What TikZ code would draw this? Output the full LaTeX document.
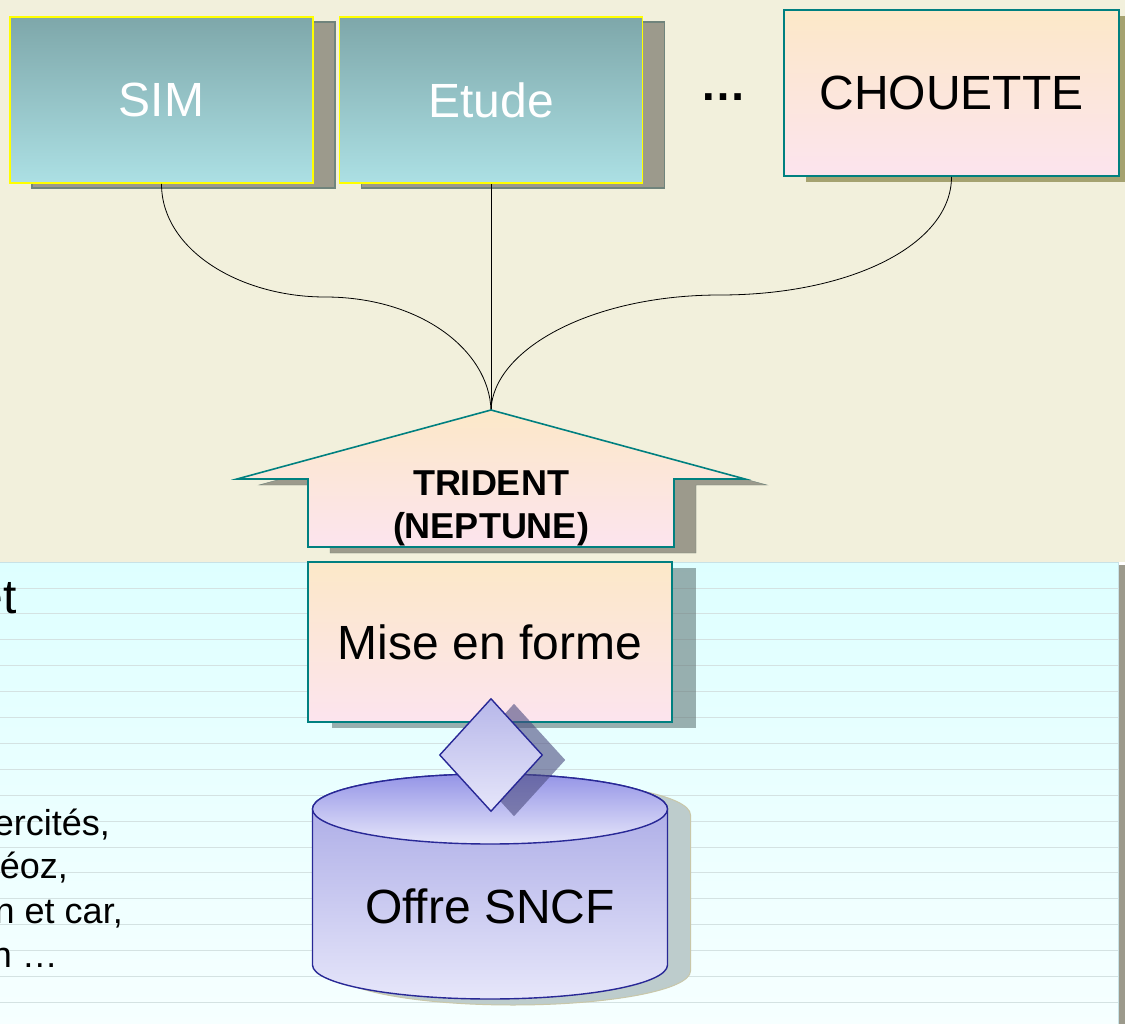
\documentclass[tikz,border=0pt]{standalone}
\usepackage{fontspec}
\setmainfont{Liberation Sans}
\usetikzlibrary{shapes.geometric,shadows}
\definecolor{topbg}{RGB}{242,240,220}
\definecolor{paneltop}{RGB}{222,255,255}
\definecolor{panelbot}{RGB}{246,255,255}
\definecolor{panelline}{RGB}{212,226,226}
\definecolor{paneledge}{RGB}{200,226,230}
\definecolor{shadowgray}{RGB}{156,154,140}
\definecolor{shadowedge}{RGB}{112,132,124}
\definecolor{oliveshadow}{RGB}{165,162,112}
\definecolor{simtop}{RGB}{126,167,170}
\definecolor{simbot}{RGB}{172,224,228}
\definecolor{boxyellow}{RGB}{255,255,0}
\definecolor{peach}{RGB}{252,232,200}
\definecolor{pinkish}{RGB}{252,228,238}
\definecolor{tealline}{RGB}{0,128,128}
\definecolor{lavtop}{RGB}{165,165,228}
\definecolor{lavbot}{RGB}{230,230,250}
\definecolor{navy}{RGB}{40,40,150}
\newcommand\boxfont{\fontsize{48}{56}\selectfont}
\newcommand\notefont{\fontsize{36}{44}\selectfont}
\begin{document}
\begin{tikzpicture}[x=1pt,y=-1pt,
  simbox/.style={draw=boxyellow,line width=1.8pt,top color=simtop,bottom color=simbot,
    text=white,minimum width=303pt,minimum height=166pt,inner sep=0pt,font=\boxfont,
    drop shadow={shadow xshift=22pt,shadow yshift=-5pt,fill=shadowgray,draw=shadowedge,opacity=1}},
  pinkbox/.style={draw=tealline,line width=1.6pt,top color=peach,bottom color=pinkish,
    inner sep=0pt,font=\boxfont},
  note/.style={anchor=base east,inner sep=0pt,font=\notefont}]
  \useasboundingbox (0,0) rectangle (1125,1024);
  % background
  \fill[topbg] (0,0) rectangle (1125,562);
  \shade[top color=paneltop,bottom color=panelbot] (-2,562) rectangle (1118,1026);
  \foreach \k in {0,...,16}
    \draw[panelline,line width=1pt] (0,{588+25.9*\k}) -- (1118,{588+25.9*\k});
  \fill[shadowgray] (1119,565) rectangle (1125,1026);
  \draw[paneledge,line width=1pt] (-2,562) -- (1118,562) -- (1118,1026);
  % left texts
  \node[note,font=\boxfont] (t0) at (17,613) {et};
  \node[note] (t1) at (110,835) {ercités,};
  \node[note] (t2) at (68,878) {éoz,};
  \node[note] (t3) at (123,923) {n et car,};
  \node[note] (t4) at (58,967) {n …};
  % top boxes
  \node[simbox] (sim) at (161.5,100) {SIM};
  \node[simbox] (etude) at (491,100) {Etude};
  \node (dots) at (723,97) {\fontsize{46}{50}\selectfont\bfseries …};
  \node[pinkbox,minimum width=335pt,minimum height=166pt,
    drop shadow={shadow xshift=22pt,shadow yshift=-6pt,fill=oliveshadow,opacity=1}]
    (chouette) at (951.5,93) {CHOUETTE};
  % links
  \coordinate (apex) at (491,410);
  \draw[line width=0.8pt] (sim.south) .. controls (161.5,250) and (240,297) .. (325,297)
    .. controls (420,297) and (489,350) .. (apex);
  \draw[line width=0.8pt] (etude.south) -- (apex);
  \draw[line width=0.8pt] (chouette.south) .. controls (951.5,245) and (850,295) .. (720,295)
    .. controls (590,295) and (493,350) .. (apex);
  % trident arrow
  \path[draw=tealline,line width=1.6pt,top color=peach,bottom color=pinkish,
    drop shadow={shadow xshift=22pt,shadow yshift=-6pt,fill=shadowgray,draw=shadowedge,opacity=1}]
    (apex) -- (745,479) -- (674,479) -- (674,547) -- (308,547) -- (308,479) -- (237,479) -- cycle;
  \node[align=center,font=\fontsize{36}{43}\selectfont\bfseries,inner sep=0pt]
    (trident) at (491,508) {TRIDENT\\(NEPTUNE)};
  % mise en forme
  \node[pinkbox,minimum width=364pt,minimum height=160pt,
    drop shadow={shadow xshift=24pt,shadow yshift=-6pt,fill=black!45!teal!30!gray,opacity=0.55}]
    (mef) at (490,642) {Mise en forme};
  % cylinder
  \path[fill=gray!70!teal!40,draw=oliveshadow!60!white,line width=1pt]
    (335.5,815) .. controls (335.5,795.7) and (415,780) .. (513,780)
    .. controls (611,780) and (690.5,795.7) .. (690.5,815) -- (690.5,971)
    .. controls (690.5,989.8) and (611,1005) .. (513,1005)
    .. controls (415,1005) and (335.5,989.8) .. (335.5,971) -- cycle;
  \path[draw=navy,line width=1.4pt,top color=lavtop,bottom color=lavbot]
    (312.5,809) .. controls (312.5,789.7) and (392,774) .. (490,774)
    .. controls (588,774) and (667.5,789.7) .. (667.5,809) -- (667.5,965)
    .. controls (667.5,983.8) and (588,999) .. (490,999)
    .. controls (392,999) and (312.5,983.8) .. (312.5,965) -- cycle;
  \path[draw=navy,line width=1.4pt,top color=lavtop!90!blue,bottom color=lavbot]
    (490,809) ellipse [x radius=177.5,y radius=35];
  \node[font=\boxfont] (offre) at (490,906) {Offre SNCF};
  % key
  \node[diamond,draw=navy,line width=1.4pt,minimum width=103pt,minimum height=113pt,
    inner sep=0pt,top color=lavtop!80!white,bottom color=lavbot,
    drop shadow={shadow xshift=23pt,shadow yshift=-5pt,fill=black!50!blue!40!gray,opacity=0.6}]
    (key) at (491,755) {};
\end{tikzpicture}
\end{document}
